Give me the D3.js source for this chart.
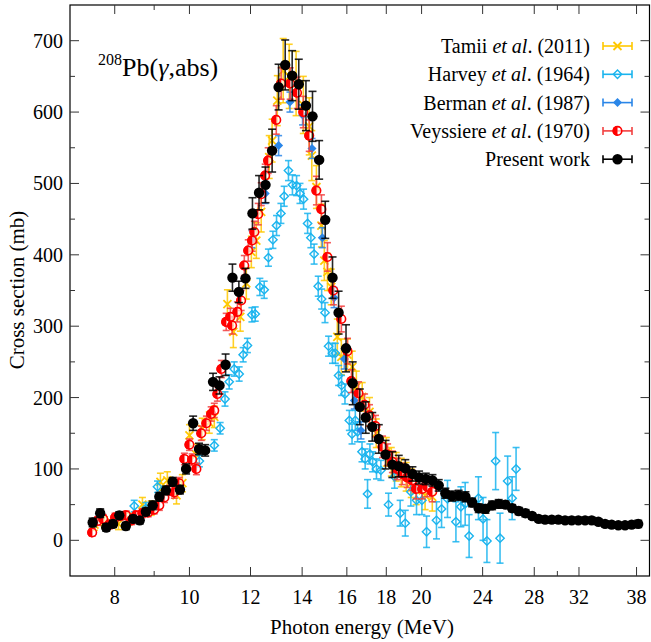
<!DOCTYPE html>
<html><head><meta charset="utf-8">
<script src="https://cdn.jsdelivr.net/npm/d3@7"></script>
<style>body{margin:0;background:#fff}svg{display:block}text{font-family:"Liberation Serif","DejaVu Serif",serif}</style>
</head><body>
<svg id="c" width="651" height="642"></svg>
<script>
// ---- data: [energy MeV, cross section mb, error mb] ----
const tamii = [[7.53,22,8],[7.76,25,8],[8.09,23,8],[8.36,30,8],[8.69,50,10],[8.92,45,10],[9.17,82,12],[9.36,84,12],[9.62,63,12],[9.79,80,12],[10.00,147,15],[10.21,120,15],[10.39,156,15],[10.61,165,15],[10.77,173,15],[11.20,331,20],[11.40,292,22],[11.64,313,20],[11.85,360,22],[12.03,404,22],[12.21,420,25],[12.39,460,28],[12.69,537,30],[12.80,560,30],[13.00,616,35],[13.23,658,45],[13.47,650,45],[13.75,640,45],[14.05,610,40],[14.30,580,40],[14.41,539,35],[14.61,495,30],[14.83,441,30],[14.96,392,28],[15.10,376,26],[15.27,355,25],[15.55,285,25],[15.74,257,25],[16.03,260,22],[16.26,243,22],[16.46,215,22],[16.75,201,20],[17.12,180,20],[17.47,150,20],[18.00,124,20],[18.27,110,20],[18.54,103,20],[18.82,95,20],[19.10,89,20],[19.39,80,20],[19.68,70,20],[20.21,63,20],[20.65,61,20]];
const harvey = [[8.48,48,8],[8.78,45,8],[9.09,75,8],[10.30,111,8],[10.77,133,8],[10.96,157,8],[11.12,198,10],[11.26,222,10],[11.43,240,10],[11.60,233,10],[11.74,260,10],[11.89,273,10],[12.05,316,10],[12.17,317,10],[12.34,355,12],[12.50,351,12],[12.66,396,12],[12.83,421,12],[12.97,441,14],[13.14,458,14],[13.27,482,14],[13.44,518,14],[13.60,498,14],[13.77,497,14],[13.91,486,14],[14.06,478,14],[14.23,444,14],[14.37,424,14],[14.51,401,14],[14.69,356,14],[14.84,338,14],[14.99,319,14],[15.15,272,14],[15.33,262,14],[15.46,262,14],[15.61,231,14],[15.75,217,14],[15.91,205,14],[16.12,168,14],[16.25,149,14],[16.41,168,14],[16.52,152,14],[16.74,124,14],[16.90,114,14],[17.02,65,20],[17.14,121,14],[17.28,110,14],[17.48,100,14],[17.71,98,14],[18.12,50,16],[18.45,89,16],[18.76,38,18],[19.05,24,18],[19.37,68,20],[19.70,56,20],[20.02,56,20],[20.30,12,22],[20.91,28,26],[21.23,44,26],[21.61,58,26],[22.16,26,28],[22.49,47,28],[22.78,51,30],[23.05,6,30],[23.70,59,30],[24.03,30,30],[24.31,-1,30],[24.95,111,40],[25.28,3,35],[25.86,83,35],[26.21,59,30],[26.52,100,30]];
const berman = [[12.05,422,12],[12.54,486,14],[13.05,553,14],[13.50,614,14],[14.02,596,14],[14.42,549,14],[14.87,424,14],[15.40,340,14],[15.88,254,14],[16.36,196,12],[16.69,154,12]];
const veyssiere = [[7.48,11,5],[7.60,27,6],[7.73,30,6],[7.87,22,6],[8.01,32,6],[8.13,34,6],[8.28,35,6],[8.41,28,6],[8.53,35,6],[8.69,38,6],[8.84,39,6],[9.00,43,6],[9.14,49,7],[9.28,60,7],[9.42,70,7],[9.56,67,8],[9.70,80,8],[9.85,114,8],[10.00,134,8],[10.08,113,8],[10.21,100,8],[10.36,150,10],[10.52,164,10],[10.67,177,10],[10.77,182,10],[10.87,205,10],[11.00,240,12],[11.16,306,12],[11.30,313,12],[11.36,301,12],[11.54,320,14],[11.67,336,14],[11.78,385,14],[11.92,406,15],[12.06,420,15],[12.14,432,15],[12.28,457,15],[12.39,485,16],[12.54,511,16],[12.65,532,18],[12.96,589,20],[13.15,640,22],[13.51,640,22],[13.79,627,22],[14.05,600,22],[14.30,567,22],[14.61,490,20],[14.83,464,20],[15.10,397,20],[15.37,350,20],[15.74,310,18],[16.03,265,18],[16.22,223,16],[16.57,206,16],[16.87,190,15],[17.12,175,15],[17.43,160,15],[17.80,131,15],[18.07,120,15],[18.33,110,15],[18.60,100,15],[18.88,93,15],[19.16,88,14],[19.45,84,14],[19.68,72,14],[20.04,72,14],[20.34,75,14],[20.65,68,14]];
const present = [[7.49,25,6],[7.66,38,6],[7.80,18,5],[7.96,23,5],[8.11,35,5],[8.27,20,5],[8.45,30,5],[8.62,28,5],[8.78,40,5],[8.96,49,6],[9.14,61,6],[9.32,70,6],[9.51,82,6],[9.72,71,6],[9.90,100,7],[10.11,164,10],[10.29,128,8],[10.48,126,8],[10.73,222,12],[10.94,217,12],[11.14,246,15],[11.37,368,19],[11.59,348,15],[11.82,367,14],[12.07,458,22],[12.31,487,24],[12.55,498,25],[12.80,546,30],[13.05,635,32],[13.31,666,35],[13.59,651,35],[13.86,639,35],[14.16,609,35],[14.44,594,35],[14.73,533,27],[15.00,449,26],[15.33,368,29],[15.61,319,30],[15.96,269,33],[16.28,220,30],[16.63,187,25],[16.93,172,22],[17.26,159,20],[17.60,142,20],[17.96,120,20],[18.33,106,18],[18.68,104,15],[19.05,101,12],[19.46,93,10],[19.85,88,9],[20.25,86,8],[20.66,84,8],[21.05,77,8],[21.47,66,7],[21.90,62,7],[22.34,63,7],[22.80,61,7],[23.26,53,6],[23.72,45,6],[24.20,44,6],[24.69,49,6],[25.18,51,6],[25.69,50,5],[26.21,45,5],[26.73,41,5],[27.27,38,5],[27.82,34,4],[28.37,30,4],[28.92,29,4],[29.50,29,4],[30.09,29,4],[30.70,28,4],[31.31,28,4],[31.94,28,4],[32.59,28,4],[33.24,28,4],[33.91,26,4],[34.59,23,4],[35.28,22,4],[35.99,21,4],[36.72,21,4],[37.45,22,4],[38.19,23,5]];
const xTicks = [8,10,12,14,16,18,20,24,28,32,38];
const xMinor = [9,30];
const yTicks = [0,100,200,300,400,500,600,700];
const yMinor = [50,150,250,350,450,550,650];
const legendLabels = [["Tamii ","et al",". (2011)"],["Harvey ","et al",". (1964)"],["Berman ","et al",". (1987)"],["Veyssiere ","et al",". (1970)"],["Present work","",""]];

// ---- layout ----
const svg = d3.select("#c");
const L=70, R=649.5, T=5, B=576;
const x = d3.scaleLog().domain([7.0,39.5]).range([L,R]);
const y = d3.scaleLinear().domain([-50,750]).range([B,T]);

const styles = [
 {data:tamii, color:"#ffc800", bar:"#ffc800", mark:"x", cap:3.5},
 {data:harvey, color:"#1ab4ee", bar:"#1ab4ee", mark:"odiamond", cap:3.5},
 {data:berman, color:"#2a86e8", bar:"#2a86e8", mark:"diamond", cap:3.5},
 {data:veyssiere, color:"#ff0000", bar:"#f24040", mark:"half", cap:3.5},
 {data:present, color:"#000000", bar:"#000000", mark:"dot", cap:4}
];

function drawMark(g, kind, color, cx, cy){
  if(kind==="dot"){
    g.append("circle").attr("cx",cx).attr("cy",cy).attr("r",5.2).attr("fill",color);
  } else if(kind==="half"){
    const r=5;
    g.append("circle").attr("cx",cx).attr("cy",cy).attr("r",r-0.75).attr("fill","#fff").attr("fill-opacity",0.6).attr("stroke",color).attr("stroke-width",1.6);
    g.append("path").attr("d",`M${cx},${cy-r} A${r},${r} 0 0 0 ${cx},${cy+r} Z`).attr("fill",color);
  } else if(kind==="odiamond"){
    const s=4.2;
    g.append("path").attr("d",`M${cx},${cy-s}L${cx+s},${cy}L${cx},${cy+s}L${cx-s},${cy}Z`).attr("fill","none").attr("stroke",color).attr("stroke-width",1.4);
  } else if(kind==="diamond"){
    const s=4.5;
    g.append("path").attr("d",`M${cx},${cy-s}L${cx+s},${cy}L${cx},${cy+s}L${cx-s},${cy}Z`).attr("fill",color);
  } else if(kind==="x"){
    const s=4;
    g.append("path").attr("d",`M${cx-s},${cy-s}L${cx+s},${cy+s}M${cx-s},${cy+s}L${cx+s},${cy-s}`).attr("stroke",color).attr("stroke-width",1.8);
  }
}

// ---- series ----
styles.forEach(st=>{
  const g = svg.append("g");
  const bars = g.append("g").attr("stroke",st.bar).attr("stroke-width",1.6).attr("stroke-opacity",0.85);
  st.data.forEach(d=>{
    const cx=x(d[0]), y1=y(d[1]-d[2]), y2=y(d[1]+d[2]);
    bars.append("line").attr("x1",cx).attr("x2",cx).attr("y1",y1).attr("y2",y2);
    bars.append("line").attr("x1",cx-st.cap).attr("x2",cx+st.cap).attr("y1",y1).attr("y2",y1);
    bars.append("line").attr("x1",cx-st.cap).attr("x2",cx+st.cap).attr("y1",y2).attr("y2",y2);
  });
  st.data.forEach(d=>drawMark(g, st.mark, st.color, x(d[0]), y(d[1])));
});

// ---- frame & ticks ----
const ax = svg.append("g").attr("stroke","#000").attr("stroke-width",1.2);
ax.append("rect").attr("x",L).attr("y",T).attr("width",R-L).attr("height",B-T).attr("fill","none");
const tk = svg.append("g").attr("stroke","#333").attr("stroke-width",1);
xTicks.forEach(v=>{const px=x(v);
  tk.append("line").attr("x1",px).attr("x2",px).attr("y1",B).attr("y2",B-9);
  tk.append("line").attr("x1",px).attr("x2",px).attr("y1",T).attr("y2",T+9);});
xMinor.forEach(v=>{const px=x(v);
  tk.append("line").attr("x1",px).attr("x2",px).attr("y1",B).attr("y2",B-5);
  tk.append("line").attr("x1",px).attr("x2",px).attr("y1",T).attr("y2",T+5);});
yTicks.forEach(v=>{const py=y(v);
  tk.append("line").attr("x1",L).attr("x2",L+9).attr("y1",py).attr("y2",py);
  tk.append("line").attr("x1",R).attr("x2",R-9).attr("y1",py).attr("y2",py);});
yMinor.forEach(v=>{const py=y(v);
  tk.append("line").attr("x1",L).attr("x2",L+5).attr("y1",py).attr("y2",py);
  tk.append("line").attr("x1",R).attr("x2",R-5).attr("y1",py).attr("y2",py);});

const lab = svg.append("g").attr("font-size",20).attr("fill","#000");
xTicks.forEach(v=>lab.append("text").attr("x",x(v)).attr("y",B+28).attr("text-anchor","middle").text(v));
yTicks.forEach(v=>lab.append("text").attr("x",L-7).attr("y",y(v)+7).attr("text-anchor","end").text(v));

svg.append("text").attr("x",362).attr("y",634).attr("text-anchor","middle").attr("font-size",21).text("Photon energy (MeV)");
svg.append("text").attr("transform","translate(24,290) rotate(-90)").attr("text-anchor","middle").attr("font-size",21).text("Cross section (mb)");

// title
const tt = svg.append("text").attr("x",98).attr("y",76).attr("font-size",26);
tt.append("tspan").attr("font-size",16).attr("dy",-11).text("208");
tt.append("tspan").attr("dy",11).text("Pb(");
tt.append("tspan").attr("font-style","italic").text("γ");
tt.append("tspan").text(",abs)");

// ---- legend ----
const lg = svg.append("g");
legendLabels.forEach((lbl,i)=>{
  const cy = 46 + i*28.3;
  const t = lg.append("text").attr("x",590).attr("y",cy+7).attr("text-anchor","end").attr("font-size",20);
  t.append("tspan").text(lbl[0]);
  if(lbl[1]){ t.append("tspan").attr("font-style","italic").text(lbl[1]); t.append("tspan").text(lbl[2]); }
  const st = styles[i];
  const g = lg.append("g");
  g.append("g").attr("stroke",st.bar).attr("stroke-width",1.6).call(s=>{
    s.append("line").attr("x1",603).attr("x2",632).attr("y1",cy).attr("y2",cy);
    s.append("line").attr("x1",603).attr("x2",603).attr("y1",cy-4).attr("y2",cy+4);
    s.append("line").attr("x1",632).attr("x2",632).attr("y1",cy-4).attr("y2",cy+4);
  });
  drawMark(g, st.mark, st.color, 617.5, cy);
});
</script>
</body></html>
